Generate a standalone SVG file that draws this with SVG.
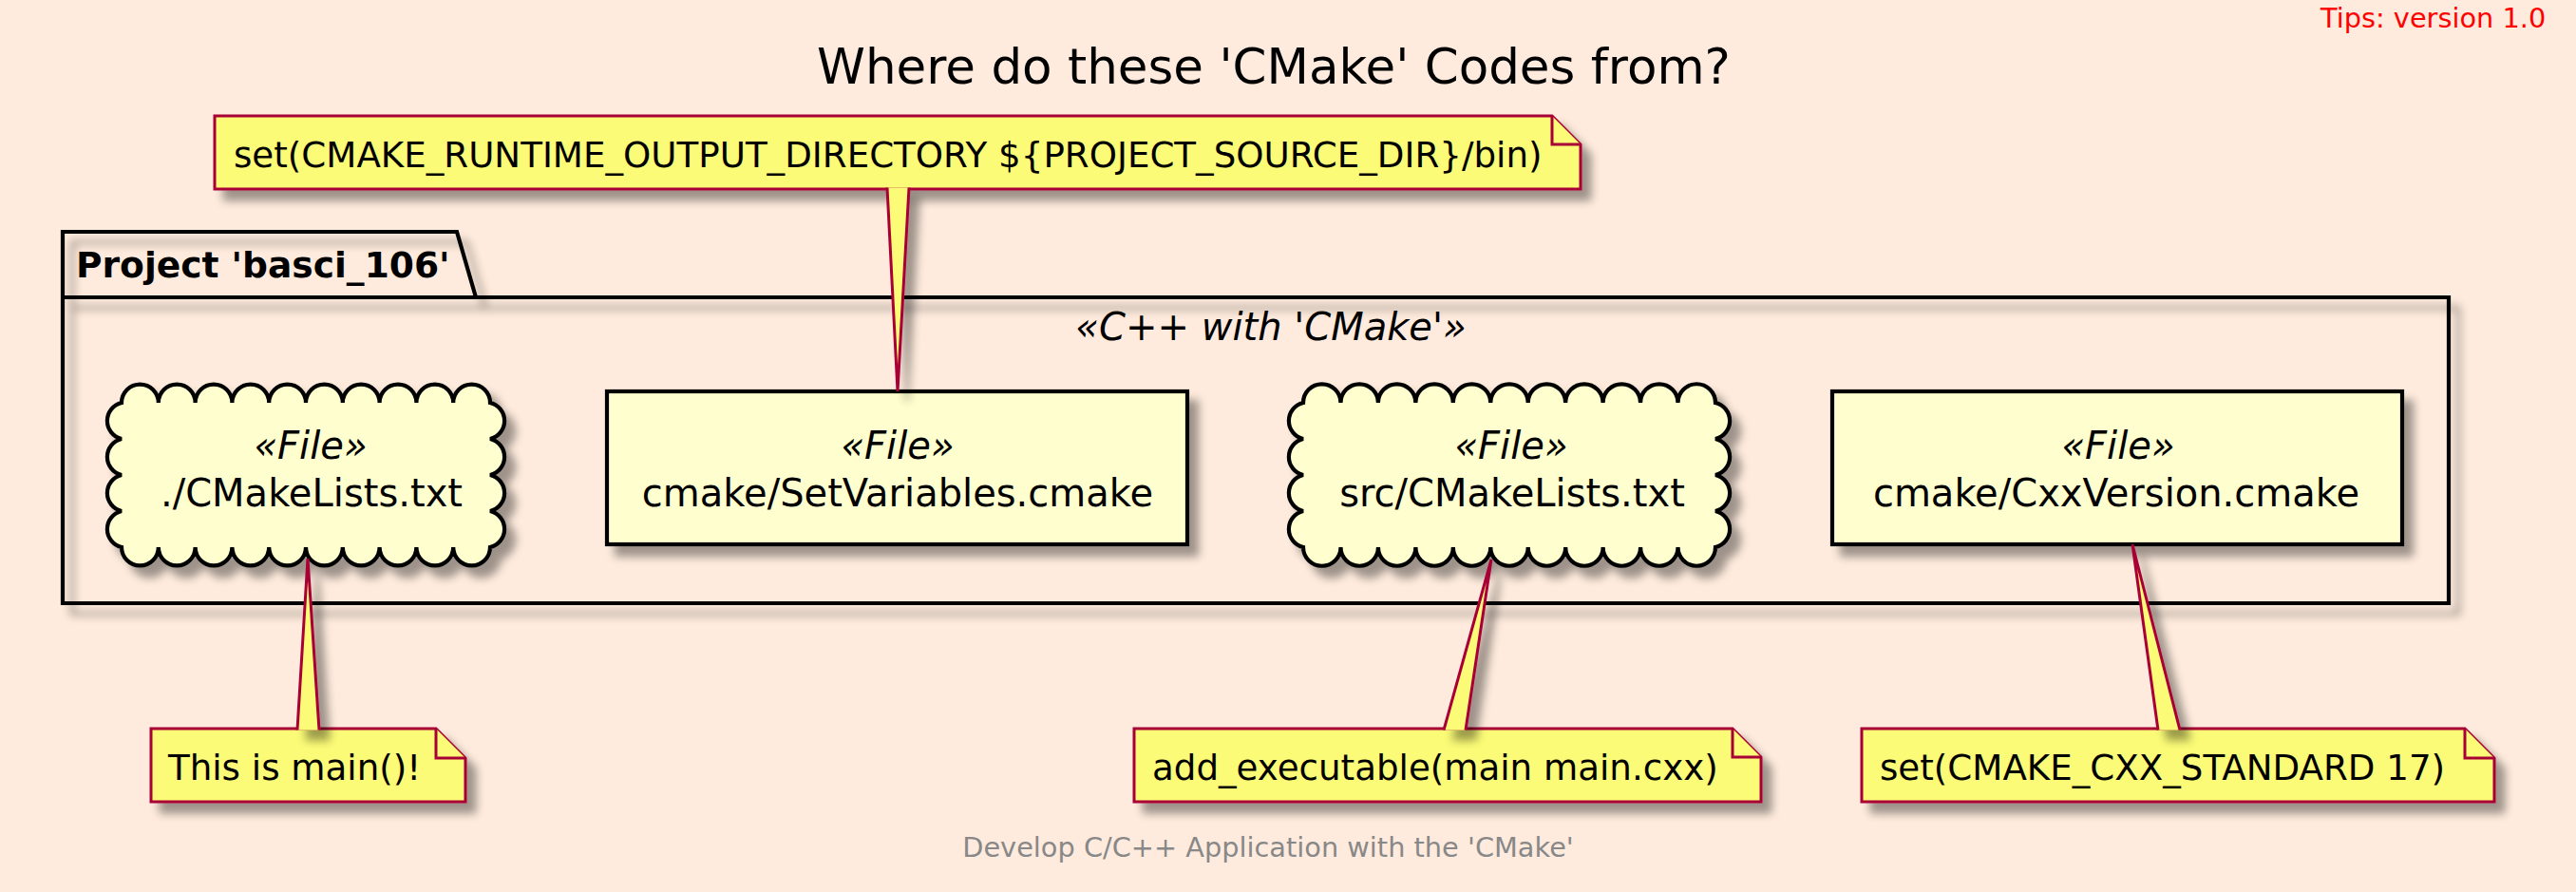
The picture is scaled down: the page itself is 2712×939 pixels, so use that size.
<svg xmlns="http://www.w3.org/2000/svg" width="2712" height="939" viewBox="0 0 2712 939">
<defs>
<style>
text { font-family: "DejaVu Sans", Verdana, sans-serif; fill: #000; }
.note { fill: #FBFB77; stroke: #A80036; stroke-width: 3; stroke-linejoin: miter; }
.elem { fill: #FEFECE; stroke: #000; stroke-width: 4.2; }
.pkg { fill: none; stroke: #000; stroke-width: 4.2; }
.name { font-size: 40px; }
.stereo { font-size: 40px; font-style: italic; }
.ntext { font-size: 37.2px; }
</style>
<filter id="sh" x="-5%" y="-20%" width="115%" height="160%">
<feGaussianBlur in="SourceAlpha" stdDeviation="5"/>
<feOffset dx="10" dy="11"/>
<feComponentTransfer><feFuncA type="linear" slope="0.38"/></feComponentTransfer>
<feMerge><feMergeNode/><feMergeNode in="SourceGraphic"/></feMerge>
</filter>
</defs>
<rect x="0" y="0" width="2712" height="939" fill="#FEEBDD"/>

<text x="1341" y="88" font-size="51.5" text-anchor="middle">Where do these 'CMake' Codes from?</text>
<text x="2443" y="29" font-size="28.8" style="fill:#FF0000">Tips: version 1.0</text>
<text x="1335" y="902" font-size="28.8" text-anchor="middle" style="fill:#888888">Develop C/C++ Application with the 'CMake'</text>

<g id="package">
<path class="pkg" filter="url(#sh)" d="M66,244 L481,244 L501,313 L2578,313 L2578,635 L66,635 Z M66,313 L501,313"/>
<text x="80" y="292" font-size="37.6" font-weight="bold">Project 'basci_106'</text>
<text x="1338" y="358" class="stereo" text-anchor="middle">«C++ with 'CMake'»</text>
</g>

<g id="node-cmakelists-root">
<path class="elem" filter="url(#sh)" d="M128,424 a19.4,19.4 0 0 1 38.8,0 a19.4,19.4 0 0 1 38.8,0 a19.4,19.4 0 0 1 38.8,0 a19.4,19.4 0 0 1 38.8,0 a19.4,19.4 0 0 1 38.8,0 a19.4,19.4 0 0 1 38.8,0 a19.4,19.4 0 0 1 38.8,0 a19.4,19.4 0 0 1 38.8,0 a19.4,19.4 0 0 1 38.8,0 a19.4,19.4 0 0 1 38.8,0 a19.5,19.5 0 0 1 0,38 a19.5,19.5 0 0 1 0,38 a19.5,19.5 0 0 1 0,38 a19.5,19.5 0 0 1 0,38 a19.4,19.4 0 0 1 -38.8,0 a19.4,19.4 0 0 1 -38.8,0 a19.4,19.4 0 0 1 -38.8,0 a19.4,19.4 0 0 1 -38.8,0 a19.4,19.4 0 0 1 -38.8,0 a19.4,19.4 0 0 1 -38.8,0 a19.4,19.4 0 0 1 -38.8,0 a19.4,19.4 0 0 1 -38.8,0 a19.4,19.4 0 0 1 -38.8,0 a19.4,19.4 0 0 1 -38.8,0 a19.5,19.5 0 0 1 0,-38 a19.5,19.5 0 0 1 0,-38 a19.5,19.5 0 0 1 0,-38 a19.5,19.5 0 0 1 0,-38 Z"/>
<text x="327" y="483" class="stereo" text-anchor="middle">«File»</text>
<text x="328" y="533" class="name" text-anchor="middle">./CMakeLists.txt</text>
</g>

<g id="node-setvariables">
<rect class="elem" filter="url(#sh)" x="639" y="412" width="611" height="161"/>
<text x="945" y="483" class="stereo" text-anchor="middle">«File»</text>
<text x="945" y="533" class="name" text-anchor="middle">cmake/SetVariables.cmake</text>
</g>

<g id="node-cmakelists-src">
<path class="elem" filter="url(#sh)" d="M1372,424 a19.7,19.7 0 0 1 39.45,0 a19.7,19.7 0 0 1 39.45,0 a19.7,19.7 0 0 1 39.45,0 a19.7,19.7 0 0 1 39.45,0 a19.7,19.7 0 0 1 39.45,0 a19.7,19.7 0 0 1 39.45,0 a19.7,19.7 0 0 1 39.45,0 a19.7,19.7 0 0 1 39.45,0 a19.7,19.7 0 0 1 39.45,0 a19.7,19.7 0 0 1 39.45,0 a19.7,19.7 0 0 1 39.5,0 a19.5,19.5 0 0 1 0,38 a19.5,19.5 0 0 1 0,38 a19.5,19.5 0 0 1 0,38 a19.5,19.5 0 0 1 0,38 a19.7,19.7 0 0 1 -39.45,0 a19.7,19.7 0 0 1 -39.45,0 a19.7,19.7 0 0 1 -39.45,0 a19.7,19.7 0 0 1 -39.45,0 a19.7,19.7 0 0 1 -39.45,0 a19.7,19.7 0 0 1 -39.45,0 a19.7,19.7 0 0 1 -39.45,0 a19.7,19.7 0 0 1 -39.45,0 a19.7,19.7 0 0 1 -39.45,0 a19.7,19.7 0 0 1 -39.45,0 a19.7,19.7 0 0 1 -39.5,0 a19.5,19.5 0 0 1 0,-38 a19.5,19.5 0 0 1 0,-38 a19.5,19.5 0 0 1 0,-38 a19.5,19.5 0 0 1 0,-38 Z"/>
<text x="1591" y="483" class="stereo" text-anchor="middle">«File»</text>
<text x="1592" y="533" class="name" text-anchor="middle">src/CMakeLists.txt</text>
</g>

<g id="node-cxxversion">
<rect class="elem" filter="url(#sh)" x="1929" y="412" width="600" height="161"/>
<text x="2230" y="483" class="stereo" text-anchor="middle">«File»</text>
<text x="2228" y="533" class="name" text-anchor="middle">cmake/CxxVersion.cmake</text>
</g>

<g id="note-runtime-output">
<path class="note" filter="url(#sh)" d="M226,122 H1634 L1664,152 V199 H226 Z"/>
<path class="note" d="M1634,122 V152 H1664"/>
<text x="246" y="176" class="ntext">set(CMAKE_RUNTIME_OUTPUT_DIRECTORY ${PROJECT_SOURCE_DIR}/bin)</text>
</g>

<g id="note-main">
<path class="note" filter="url(#sh)" d="M159,767 H459 L490,798 V844 H159 Z"/>
<path class="note" d="M459,767 V798 H490"/>
<text x="177" y="821" class="ntext">This is main()!</text>
</g>

<g id="note-add-executable">
<path class="note" filter="url(#sh)" d="M1194,767 H1824 L1854,797 V844 H1194 Z"/>
<path class="note" d="M1824,767 V797 H1854"/>
<text x="1213" y="821" class="ntext">add_executable(main main.cxx)</text>
</g>

<g id="note-cxx-standard">
<path class="note" filter="url(#sh)" d="M1960,767 H2595 L2626,798 V844 H1960 Z"/>
<path class="note" d="M2595,767 V798 H2626"/>
<text x="1979" y="821" class="ntext">set(CMAKE_CXX_STANDARD 17)</text>
</g>

<g id="connectors" filter="url(#sh)">
<path class="note" d="M934,197.5 L945,412 L957,197.5"/>
<path class="note" d="M313,768.5 L324,588 L336,768.5"/>
<path class="note" d="M1520,768.5 L1570,589 L1543,768.5"/>
<path class="note" d="M2272,768.5 L2245,573 L2295,768.5"/>
</g>
</svg>
